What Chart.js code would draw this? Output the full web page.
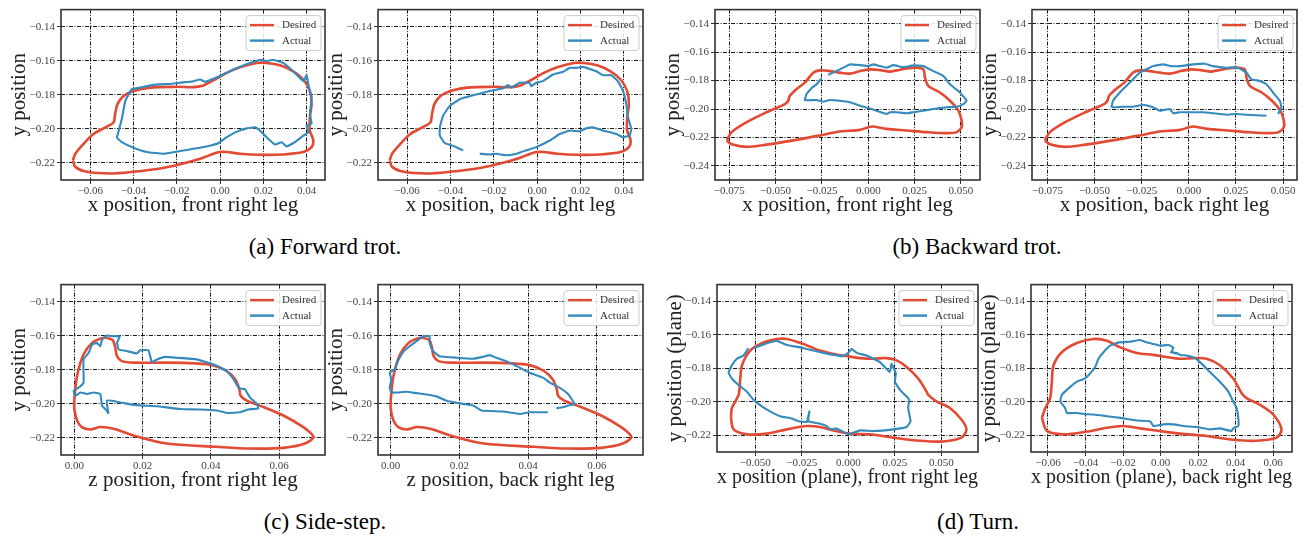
<!DOCTYPE html>
<html>
<head>
<meta charset="utf-8">
<script src="https://cdn.jsdelivr.net/npm/chart.js@4"></script>
<style>
  body { margin: 0; background: #fff; width: 1310px; height: 538px; position: relative; overflow: hidden; }
  canvas { position: absolute; }
  .cap { position: absolute; width: 400px; text-align: center; font: 23px 'Liberation Serif', serif; color: #000; line-height: 26px; }
</style>
</head>
<body>
<div class="cap" style="left:125px;top:234px">(a) Forward trot.</div>
<div class="cap" style="left:777px;top:234px">(b) Backward trot.</div>
<div class="cap" style="left:125px;top:509px">(c) Side-step.</div>
<div class="cap" style="left:778px;top:509px">(d) Turn.</div>
<script>
const legendLabels = ['Desired', 'Actual'];

// tick values and labels
const yTicks5 = [-0.14, -0.16, -0.18, -0.20, -0.22];
const yLabels5 = ['−0.14', '−0.16', '−0.18', '−0.20', '−0.22'];
const yTicks6 = [-0.14, -0.16, -0.18, -0.20, -0.22, -0.24];
const yLabels6 = ['−0.14', '−0.16', '−0.18', '−0.20', '−0.22', '−0.24'];
const xTicksTrot = [-0.06, -0.04, -0.02, 0, 0.02, 0.04];
const xLabelsTrot = ['−0.06', '−0.04', '−0.02', '0.00', '0.02', '0.04'];
const xTicksBack = [-0.075, -0.05, -0.025, 0, 0.025, 0.05];
const xLabelsBack = ['−0.075', '−0.050', '−0.025', '0.000', '0.025', '0.050'];
const xTicksSide = [0, 0.02, 0.04, 0.06];
const xLabelsSide = ['0.00', '0.02', '0.04', '0.06'];
const xTicksTurnF = [-0.05, -0.025, 0, 0.025, 0.05];
const xLabelsTurnF = ['−0.050', '−0.025', '0.000', '0.025', '0.050'];
const xTicksTurnB = [-0.06, -0.04, -0.02, 0, 0.02, 0.04, 0.06];
const xLabelsTurnB = ['−0.06', '−0.04', '−0.02', '0.00', '0.02', '0.04', '0.06'];

// (a) forward trot
const desiredFwd = [[-0.0680,-0.2185],[-0.0669,-0.2146],[-0.0631,-0.2088],[-0.0585,-0.2030],[-0.0523,-0.1987],[-0.0492,-0.1962],[-0.0485,-0.1913],[-0.0474,-0.1855],[-0.0446,-0.1807],[-0.0400,-0.1778],[-0.0323,-0.1758],[-0.0200,-0.1753],[-0.0123,-0.1755],[-0.0077,-0.1745],[-0.0038,-0.1720],[0.0031,-0.1671],[0.0092,-0.1638],[0.0169,-0.1613],[0.0215,-0.1613],[0.0277,-0.1627],[0.0338,-0.1662],[0.0385,-0.1710],[0.0415,-0.1778],[0.0423,-0.1855],[0.0415,-0.1933],[0.0415,-0.2010],[0.0431,-0.2068],[0.0423,-0.2107],[0.0385,-0.2136],[0.0292,-0.2150],[0.0185,-0.2152],[0.0092,-0.2146],[0.0031,-0.2136],[0.0000,-0.2136],[-0.0031,-0.2146],[-0.0092,-0.2175],[-0.0185,-0.2208],[-0.0277,-0.2233],[-0.0400,-0.2252],[-0.0508,-0.2262],[-0.0615,-0.2252],[-0.0669,-0.2223],[-0.0680,-0.2185]];
const actualFwdFront = [[-0.0477,-0.2053],[-0.0454,-0.1942],[-0.0438,-0.1836],[-0.0408,-0.1768],[-0.0369,-0.1758],[-0.0315,-0.1743],[-0.0223,-0.1735],[-0.0185,-0.1729],[-0.0123,-0.1720],[-0.0092,-0.1710],[-0.0069,-0.1724],[0.0000,-0.1690],[0.0062,-0.1652],[0.0138,-0.1613],[0.0192,-0.1594],[0.0215,-0.1603],[0.0246,-0.1594],[0.0292,-0.1613],[0.0338,-0.1662],[0.0385,-0.1720],[0.0400,-0.1685],[0.0408,-0.1740],[0.0423,-0.1817],[0.0415,-0.1913],[0.0423,-0.1970],[0.0400,-0.1981],[0.0408,-0.2020],[0.0385,-0.2040],[0.0346,-0.2078],[0.0308,-0.2103],[0.0285,-0.2078],[0.0254,-0.2092],[0.0215,-0.2049],[0.0185,-0.2010],[0.0162,-0.1991],[0.0123,-0.1997],[0.0077,-0.2016],[0.0031,-0.2049],[-0.0008,-0.2084],[-0.0062,-0.2103],[-0.0123,-0.2117],[-0.0185,-0.2130],[-0.0262,-0.2146],[-0.0338,-0.2136],[-0.0400,-0.2111],[-0.0454,-0.2078],[-0.0477,-0.2053]];
const actualFwdBack = [[-0.0265,-0.2146],[-0.0219,-0.2150],[-0.0188,-0.2146],[-0.0142,-0.2155],[-0.0096,-0.2146],[-0.0050,-0.2126],[-0.0004,-0.2107],[0.0058,-0.2068],[0.0104,-0.2030],[0.0150,-0.2010],[0.0196,-0.2014],[0.0226,-0.1997],[0.0257,-0.1991],[0.0303,-0.2010],[0.0365,-0.2030],[0.0396,-0.2049],[0.0426,-0.2039],[0.0434,-0.2000],[0.0419,-0.1933],[0.0411,-0.1855],[0.0396,-0.1778],[0.0372,-0.1720],[0.0342,-0.1685],[0.0303,-0.1685],[0.0273,-0.1662],[0.0211,-0.1636],[0.0180,-0.1642],[0.0150,-0.1642],[0.0119,-0.1665],[0.0073,-0.1681],[0.0027,-0.1720],[-0.0004,-0.1729],[-0.0027,-0.1749],[-0.0035,-0.1729],[-0.0081,-0.1729],[-0.0119,-0.1758],[-0.0135,-0.1743],[-0.0158,-0.1762],[-0.0219,-0.1778],[-0.0296,-0.1803],[-0.0357,-0.1826],[-0.0403,-0.1865],[-0.0434,-0.1923],[-0.0449,-0.1991],[-0.0449,-0.2039],[-0.0426,-0.2084],[-0.0380,-0.2103],[-0.0342,-0.2126]];

// (b) backward trot
const desiredBwd = [[-0.0764,-0.2221],[-0.0737,-0.2163],[-0.0656,-0.2093],[-0.0549,-0.2023],[-0.0450,-0.1965],[-0.0432,-0.1942],[-0.0423,-0.1907],[-0.0387,-0.1860],[-0.0342,-0.1814],[-0.0297,-0.1744],[-0.0261,-0.1728],[-0.0207,-0.1733],[-0.0153,-0.1744],[-0.0099,-0.1751],[-0.0045,-0.1733],[0.0009,-0.1721],[0.0063,-0.1726],[0.0117,-0.1737],[0.0153,-0.1728],[0.0207,-0.1714],[0.0261,-0.1709],[0.0297,-0.1721],[0.0306,-0.1779],[0.0324,-0.1837],[0.0387,-0.1884],[0.0441,-0.1942],[0.0486,-0.2012],[0.0504,-0.2081],[0.0504,-0.2128],[0.0477,-0.2163],[0.0423,-0.2170],[0.0315,-0.2163],[0.0207,-0.2151],[0.0099,-0.2140],[0.0027,-0.2123],[0.0000,-0.2128],[-0.0045,-0.2147],[-0.0153,-0.2158],[-0.0261,-0.2186],[-0.0405,-0.2221],[-0.0549,-0.2251],[-0.0656,-0.2267],[-0.0737,-0.2249],[-0.0764,-0.2221]];
const actualBwdFront = [[-0.0216,-0.1760],[-0.0153,-0.1721],[-0.0099,-0.1686],[-0.0045,-0.1691],[0.0000,-0.1698],[0.0027,-0.1686],[0.0063,-0.1698],[0.0099,-0.1709],[0.0135,-0.1691],[0.0189,-0.1705],[0.0243,-0.1693],[0.0297,-0.1698],[0.0351,-0.1733],[0.0405,-0.1767],[0.0441,-0.1826],[0.0495,-0.1884],[0.0531,-0.1942],[0.0513,-0.1965],[0.0477,-0.1984],[0.0423,-0.1988],[0.0351,-0.2000],[0.0297,-0.2012],[0.0243,-0.2023],[0.0207,-0.2030],[0.0153,-0.2023],[0.0117,-0.2023],[0.0099,-0.2035],[0.0045,-0.2012],[0.0000,-0.1993],[-0.0045,-0.1977],[-0.0099,-0.1953],[-0.0153,-0.1942],[-0.0207,-0.1937],[-0.0243,-0.1949],[-0.0279,-0.1937],[-0.0342,-0.1937],[-0.0333,-0.1895],[-0.0306,-0.1853],[-0.0279,-0.1826],[-0.0252,-0.1784]];
const actualBwdBack = [[0.0412,-0.2047],[0.0306,-0.2040],[0.0252,-0.2035],[0.0199,-0.2040],[0.0129,-0.2030],[0.0076,-0.2023],[0.0023,-0.2023],[-0.0048,-0.2023],[-0.0083,-0.2030],[-0.0101,-0.2000],[-0.0154,-0.2012],[-0.0190,-0.1988],[-0.0242,-0.1970],[-0.0296,-0.1984],[-0.0349,-0.1984],[-0.0402,-0.1988],[-0.0410,-0.1984],[-0.0402,-0.1942],[-0.0366,-0.1884],[-0.0313,-0.1814],[-0.0260,-0.1744],[-0.0190,-0.1698],[-0.0137,-0.1686],[-0.0092,-0.1698],[-0.0048,-0.1698],[0.0023,-0.1686],[0.0085,-0.1681],[0.0129,-0.1698],[0.0199,-0.1709],[0.0261,-0.1709],[0.0306,-0.1744],[0.0332,-0.1791],[0.0376,-0.1802],[0.0412,-0.1826],[0.0447,-0.1884],[0.0483,-0.1942],[0.0491,-0.1988],[0.0474,-0.2035]];

// (c) side-step
const desiredSide = [[0.0000,-0.1971],[0.0008,-0.1836],[0.0027,-0.1710],[0.0052,-0.1642],[0.0076,-0.1617],[0.0095,-0.1613],[0.0113,-0.1627],[0.0120,-0.1671],[0.0125,-0.1720],[0.0139,-0.1749],[0.0173,-0.1758],[0.0271,-0.1758],[0.0349,-0.1762],[0.0407,-0.1774],[0.0446,-0.1807],[0.0471,-0.1855],[0.0483,-0.1913],[0.0487,-0.1952],[0.0505,-0.1981],[0.0543,-0.2010],[0.0612,-0.2068],[0.0670,-0.2136],[0.0700,-0.2194],[0.0675,-0.2233],[0.0612,-0.2258],[0.0514,-0.2262],[0.0417,-0.2252],[0.0271,-0.2233],[0.0173,-0.2185],[0.0115,-0.2146],[0.0076,-0.2136],[0.0047,-0.2150],[0.0022,-0.2136],[0.0008,-0.2097],[0.0000,-0.2030],[0.0000,-0.1971]];
const actualSideFront = [[0.0100,-0.2059],[0.0095,-0.1981],[0.0125,-0.1987],[0.0173,-0.2006],[0.0203,-0.2010],[0.0242,-0.2014],[0.0310,-0.2030],[0.0368,-0.2033],[0.0417,-0.2039],[0.0446,-0.2053],[0.0485,-0.2049],[0.0509,-0.2033],[0.0539,-0.2026],[0.0534,-0.2000],[0.0514,-0.1962],[0.0499,-0.1913],[0.0483,-0.1909],[0.0466,-0.1855],[0.0446,-0.1807],[0.0407,-0.1768],[0.0358,-0.1739],[0.0300,-0.1729],[0.0266,-0.1724],[0.0242,-0.1739],[0.0227,-0.1755],[0.0217,-0.1685],[0.0193,-0.1685],[0.0183,-0.1704],[0.0154,-0.1690],[0.0130,-0.1681],[0.0125,-0.1642],[0.0133,-0.1603],[0.0115,-0.1603],[0.0095,-0.1599],[0.0081,-0.1623],[0.0076,-0.1662],[0.0066,-0.1642],[0.0052,-0.1652],[0.0042,-0.1700],[0.0027,-0.1739],[0.0027,-0.1817],[0.0027,-0.1875],[0.0013,-0.1904],[-0.0002,-0.1923],[0.0003,-0.1952],[0.0018,-0.1933],[0.0037,-0.1942],[0.0056,-0.1933],[0.0076,-0.1942],[0.0081,-0.2010],[0.0095,-0.2039],[0.0100,-0.2059]];
const actualSideBack = [[0.0457,-0.2049],[0.0404,-0.2049],[0.0375,-0.2059],[0.0327,-0.2045],[0.0264,-0.2039],[0.0240,-0.2010],[0.0210,-0.2000],[0.0162,-0.1981],[0.0133,-0.1956],[0.0094,-0.1942],[0.0075,-0.1937],[0.0046,-0.1929],[0.0021,-0.1933],[0.0002,-0.1933],[-0.0003,-0.1904],[0.0002,-0.1855],[-0.0003,-0.1817],[0.0012,-0.1797],[0.0021,-0.1749],[0.0036,-0.1696],[0.0055,-0.1662],[0.0075,-0.1632],[0.0094,-0.1603],[0.0113,-0.1603],[0.0113,-0.1642],[0.0123,-0.1691],[0.0142,-0.1720],[0.0191,-0.1729],[0.0240,-0.1735],[0.0268,-0.1724],[0.0288,-0.1714],[0.0307,-0.1729],[0.0336,-0.1749],[0.0375,-0.1787],[0.0404,-0.1817],[0.0443,-0.1846],[0.0463,-0.1875],[0.0491,-0.1904],[0.0516,-0.1942],[0.0535,-0.2000],[0.0516,-0.2010],[0.0501,-0.2020],[0.0482,-0.2026]];

// (d) turn
const desiredTurnFront = [[-0.0630,-0.2096],[-0.0625,-0.2037],[-0.0589,-0.1959],[-0.0580,-0.1861],[-0.0571,-0.1782],[-0.0527,-0.1694],[-0.0455,-0.1645],[-0.0384,-0.1625],[-0.0330,-0.1625],[-0.0241,-0.1655],[-0.0152,-0.1694],[-0.0080,-0.1714],[-0.0009,-0.1727],[0.0063,-0.1739],[0.0134,-0.1743],[0.0205,-0.1739],[0.0259,-0.1753],[0.0313,-0.1792],[0.0375,-0.1861],[0.0420,-0.1939],[0.0429,-0.1959],[0.0473,-0.1998],[0.0545,-0.2037],[0.0607,-0.2106],[0.0634,-0.2165],[0.0607,-0.2214],[0.0509,-0.2237],[0.0384,-0.2233],[0.0241,-0.2214],[0.0116,-0.2194],[0.0009,-0.2190],[-0.0080,-0.2171],[-0.0152,-0.2151],[-0.0223,-0.2145],[-0.0330,-0.2165],[-0.0438,-0.2190],[-0.0545,-0.2194],[-0.0616,-0.2165],[-0.0630,-0.2096]];
const actualTurnFront = [[-0.0536,-0.1680],[-0.0563,-0.1724],[-0.0598,-0.1743],[-0.0625,-0.1782],[-0.0643,-0.1825],[-0.0625,-0.1861],[-0.0589,-0.1900],[-0.0545,-0.1939],[-0.0509,-0.1988],[-0.0464,-0.2027],[-0.0420,-0.2057],[-0.0366,-0.2086],[-0.0304,-0.2100],[-0.0268,-0.2116],[-0.0223,-0.2120],[-0.0209,-0.2057],[-0.0214,-0.2116],[-0.0152,-0.2131],[-0.0116,-0.2145],[-0.0098,-0.2165],[-0.0063,-0.2159],[0.0000,-0.2194],[0.0063,-0.2171],[0.0134,-0.2175],[0.0241,-0.2165],[0.0313,-0.2151],[0.0334,-0.2116],[0.0321,-0.2037],[0.0327,-0.1988],[0.0313,-0.1969],[0.0277,-0.1929],[0.0250,-0.1880],[0.0255,-0.1831],[0.0232,-0.1773],[0.0223,-0.1822],[0.0170,-0.1763],[0.0098,-0.1724],[0.0045,-0.1708],[0.0018,-0.1684],[0.0000,-0.1708],[-0.0027,-0.1727],[-0.0080,-0.1720],[-0.0134,-0.1708],[-0.0188,-0.1694],[-0.0259,-0.1675],[-0.0330,-0.1661],[-0.0384,-0.1635],[-0.0420,-0.1645],[-0.0473,-0.1665],[-0.0509,-0.1680]];
const desiredTurnBack = [[-0.0632,-0.2096],[-0.0614,-0.2037],[-0.0588,-0.1978],[-0.0579,-0.1880],[-0.0570,-0.1782],[-0.0526,-0.1704],[-0.0446,-0.1649],[-0.0357,-0.1625],[-0.0286,-0.1635],[-0.0215,-0.1675],[-0.0127,-0.1708],[-0.0038,-0.1720],[0.0033,-0.1733],[0.0104,-0.1743],[0.0175,-0.1739],[0.0245,-0.1743],[0.0316,-0.1782],[0.0387,-0.1861],[0.0432,-0.1949],[0.0458,-0.1978],[0.0529,-0.2018],[0.0600,-0.2076],[0.0644,-0.2165],[0.0618,-0.2214],[0.0511,-0.2233],[0.0387,-0.2227],[0.0245,-0.2204],[0.0104,-0.2190],[-0.0003,-0.2175],[-0.0109,-0.2159],[-0.0198,-0.2145],[-0.0286,-0.2155],[-0.0393,-0.2178],[-0.0517,-0.2194],[-0.0605,-0.2174],[-0.0632,-0.2096]];
const actualTurnBack = [[0.0050,-0.1704],[0.0086,-0.1708],[0.0104,-0.1720],[0.0139,-0.1724],[0.0175,-0.1735],[0.0210,-0.1763],[0.0263,-0.1822],[0.0316,-0.1880],[0.0361,-0.1939],[0.0387,-0.1998],[0.0405,-0.2037],[0.0414,-0.2096],[0.0414,-0.2145],[0.0387,-0.2159],[0.0378,-0.2175],[0.0316,-0.2159],[0.0263,-0.2165],[0.0192,-0.2151],[0.0121,-0.2145],[0.0068,-0.2135],[0.0015,-0.2135],[-0.0038,-0.2145],[-0.0056,-0.2116],[-0.0127,-0.2112],[-0.0215,-0.2096],[-0.0286,-0.2086],[-0.0357,-0.2076],[-0.0410,-0.2073],[-0.0446,-0.2067],[-0.0499,-0.2067],[-0.0508,-0.2037],[-0.0534,-0.1998],[-0.0526,-0.1959],[-0.0490,-0.1920],[-0.0446,-0.1880],[-0.0410,-0.1865],[-0.0384,-0.1841],[-0.0348,-0.1792],[-0.0331,-0.1743],[-0.0304,-0.1704],[-0.0269,-0.1665],[-0.0224,-0.1645],[-0.0162,-0.1641],[-0.0109,-0.1631],[-0.0074,-0.1645],[-0.0038,-0.1655],[-0.0003,-0.1665],[0.0042,-0.1661],[0.0068,-0.1675],[0.0059,-0.1704],[0.0086,-0.1712]];

const RED = '#E24A33';
const BLUE = '#348ABD';
const SERIF = "'Liberation Serif', 'Times New Roman', serif";

// plot-area frame of each panel on the page (left, top, width, height)
const panels = [
  { frame: [61, 7, 264, 173],   x: [-0.0735, 0.0485], y: [-0.23, -0.13], xt: xTicksTrot,  xl: xLabelsTrot,  yt: yTicks5, yl: yLabels5, xTitle: 'x position, front right leg', yTitle: 'y position', des: desiredFwd, act: actualFwdFront },
  { frame: [378, 7, 265, 173],  x: [-0.0734, 0.0488], y: [-0.23, -0.13], xt: xTicksTrot,  xl: xLabelsTrot,  yt: yTicks5, yl: yLabels5, xTitle: 'x position, back right leg', yTitle: 'y position', des: desiredFwd, act: actualFwdBack },
  { frame: [715, 7, 265, 173],  x: [-0.0827, 0.0603], y: [-0.25, -0.13], xt: xTicksBack,  xl: xLabelsBack,  yt: yTicks6, yl: yLabels6, xTitle: 'x position, front right leg', yTitle: 'y position', des: desiredBwd, act: actualBwdFront },
  { frame: [1032, 7, 265, 173], x: [-0.0832, 0.0574], y: [-0.25, -0.13], xt: xTicksBack,  xl: xLabelsBack,  yt: yTicks6, yl: yLabels6, xTitle: 'x position, back right leg', yTitle: 'y position', des: desiredBwd, act: actualBwdBack },
  { frame: [61, 282, 264, 173], x: [-0.0039, 0.0734], y: [-0.23, -0.13], xt: xTicksSide,  xl: xLabelsSide,  yt: yTicks5, yl: yLabels5, xTitle: 'z position, front right leg', yTitle: 'y position', des: desiredSide, act: actualSideFront },
  { frame: [378, 282, 265, 173],x: [-0.0037, 0.0734], y: [-0.23, -0.13], xt: xTicksSide,  xl: xLabelsSide,  yt: yTicks5, yl: yLabels5, xTitle: 'z position, back right leg', yTitle: 'y position', des: desiredSide, act: actualSideBack },
  { frame: [717, 282, 261, 170],x: [-0.0705, 0.0696], y: [-0.23, -0.13], xt: xTicksTurnF, xl: xLabelsTurnF, yt: yTicks5, yl: yLabels5, xTitle: 'x position (plane), front right leg', yTitle: 'y position (plane)', des: desiredTurnFront, act: actualTurnFront },
  { frame: [1031, 282, 261, 170],x: [-0.069, 0.070], y: [-0.23, -0.13], xt: xTicksTurnB, xl: xLabelsTurnB, yt: yTicks5, yl: yLabels5, xTitle: 'x position (plane), back right leg', yTitle: 'y position (plane)', des: desiredTurnBack, act: actualTurnBack }
];

const Y_W = 62, X_H = 42, PAD_T = 6, PAD_R = 8;

// frame and in-axes legend, like matplotlib
const framePlugin = {
  id: 'frameLegend',
  afterDatasetsDraw(chart) {
    const { ctx, chartArea: a } = chart;
    ctx.save();
    ctx.strokeStyle = '#333';
    ctx.lineWidth = 1.6;
    ctx.strokeRect(a.left, a.top, a.right - a.left, a.bottom - a.top);

    const bx = a.right - 79, by = a.top + 6, bw = 75, bh = 35;
    ctx.fillStyle = 'rgba(255,255,255,0.85)';
    ctx.strokeStyle = '#cccccc';
    ctx.lineWidth = 1;
    ctx.beginPath();
    ctx.roundRect(bx, by, bw, bh, 3);
    ctx.fill();
    ctx.stroke();
    const cols = [RED, BLUE];
    legendLabels.forEach((lab, i) => {
      const ly = by + 9.5 + i * 15.5;
      ctx.strokeStyle = cols[i];
      ctx.lineWidth = 2.4;
      ctx.beginPath();
      ctx.moveTo(bx + 4, ly);
      ctx.lineTo(bx + 28, ly);
      ctx.stroke();
      ctx.fillStyle = '#333';
      ctx.font = '11px ' + SERIF;
      ctx.textBaseline = 'middle';
      ctx.fillText(lab, bx + 36, ly + 0.5);
    });
    ctx.restore();
  }
};

function toPoints(arr) {
  return arr.map(p => ({ x: p[0], y: p[1] }));
}

function axisOpts(range, ticks, labels, title, isX) {
  return {
    type: 'linear',
    min: range[0],
    max: range[1],
    afterBuildTicks: s => { s.ticks = ticks.map(v => ({ value: v })); },
    afterFit: s => { if (isX) s.height = X_H; else s.width = Y_W; },
    grid: { color: '#000', lineWidth: 0.9, drawTicks: true, tickLength: 4, tickColor: '#333', tickWidth: 1 },
    border: { display: false, dash: [4, 1.5, 1, 1.5] },
    ticks: {
      autoSkip: false,
      maxRotation: 0,
      padding: isX ? 1 : 2,
      color: '#444',
      font: { family: SERIF, size: 11 },
      callback: v => labels[ticks.findIndex(t => Math.abs(t - v) < 1e-9)]
    },
    title: {
      display: true,
      text: title,
      color: '#222',
      font: { family: SERIF, size: 21 },
      padding: isX ? { top: 0, bottom: 4 } : { top: 8, bottom: 0 }
    }
  };
}

panels.forEach(p => {
  const [fl, ft, fw, fh] = p.frame;
  const canvas = document.createElement('canvas');
  canvas.width = Y_W + fw + PAD_R;
  canvas.height = PAD_T + fh + X_H;
  canvas.style.left = (fl - Y_W) + 'px';
  canvas.style.top = (ft - PAD_T) + 'px';
  document.body.appendChild(canvas);

  new Chart(canvas.getContext('2d'), {
    type: 'scatter',
    data: {
      datasets: [
        { label: legendLabels[0], data: toPoints(p.des), showLine: true, borderColor: RED, borderWidth: 2.6, pointRadius: 0, tension: 0.3, order: 1 },
        { label: legendLabels[1], data: toPoints(p.act), showLine: true, borderColor: BLUE, borderWidth: 2.1, pointRadius: 0, tension: 0.1, order: 0 }
      ]
    },
    options: {
      responsive: false,
      animation: false,
      devicePixelRatio: 1,
      layout: { padding: { top: PAD_T, right: PAD_R, left: 0, bottom: 0 }, autoPadding: false },
      plugins: { legend: { display: false }, tooltip: { enabled: false } },
      scales: {
        x: axisOpts(p.x, p.xt, p.xl, p.xTitle, true),
        y: axisOpts(p.y, p.yt, p.yl, p.yTitle, false)
      }
    },
    plugins: [framePlugin]
  });
});
</script>
</body>
</html>
